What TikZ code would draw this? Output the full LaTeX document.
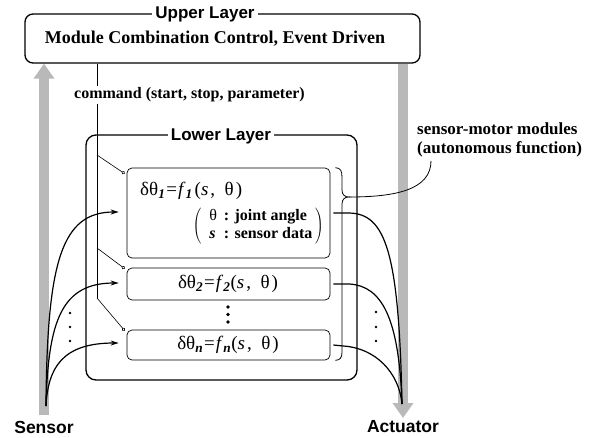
\documentclass[tikz,border=0pt]{standalone}
\usepackage{fontspec}
\setmainfont{Liberation Serif}
\newfontfamily\headfont{Liberation Sans}
\usetikzlibrary{arrows.meta,calc}

\tikzset{
  layerbox/.style={draw, line width=1.3pt, rounded corners=8pt, inner sep=0pt},
  modbox/.style={draw, line width=0.7pt, rounded corners=5pt, inner sep=0pt},
  headlabel/.style={fill=white, inner sep=3pt, font=\headfont\bfseries\fontsize{17}{20}\selectfont},
  boldlabel/.style={inner sep=2pt, font=\bfseries\fontsize{16}{18}\selectfont},
  eqlabel/.style={inner sep=0pt, font=\fontsize{19}{21}\selectfont},
  bigarrow/.style={draw=gray!55, line width=10pt, -{Triangle[width=20pt,length=15pt]}},
  cmdline/.style={line width=0.7pt},
  cmdbranch/.style={line width=0.6pt, -{Circle[open,length=3.5pt]}},
  flow/.style={line width=1.2pt},
  flowin/.style={line width=1.2pt, -{Stealth[length=8pt,width=5pt]}},
  dotmark/.style={fill=black}
}

\begin{document}
\begin{tikzpicture}[x=1pt,y=-1pt]
\useasboundingbox (0,0) rectangle (607,437);

% upper layer
\node[layerbox, minimum width=395pt, minimum height=49pt] (upper) at (222.5,38.5) {};
\node[headlabel] (uppertitle) at (205,14) {Upper Layer};
\node[inner sep=0pt, font=\bfseries\fontsize{18}{20}\selectfont] (uppertext) at (215,39)
  {Module Combination Control, Event Driven};

% lower layer
\node[layerbox, rounded corners=10pt, minimum width=271pt, minimum height=245pt] (lower) at (221.5,257.5) {};
\node[headlabel] (lowertitle) at (221,136) {Lower Layer};

% sensor-motor modules
\node[modbox, minimum width=203pt, minimum height=90pt] (m1) at (228.5,213) {};
\node[modbox, minimum width=203pt, minimum height=32pt] (m2) at (228.5,284) {};
\node[modbox, minimum width=203pt, minimum height=30pt] (mn) at (228.5,345) {};

\node[eqlabel, anchor=west] (eq1) at (140,191)
  {δθ\textsubscript{\textbf{\textit{1}}}\kern1pt=\kern1pt\textit{f}\textsubscript{\textbf{\textit{1}}}\kern2pt(\textit{s}\kern2pt,\enspace θ\kern2pt)};
\node[inner sep=0pt, anchor=east, font=\fontsize{16}{16}\selectfont] (note1) at (324,226)
  {\renewcommand{\arraystretch}{1.15}$\left(\vcenter{\hbox{\begin{tabular}{@{\enspace}l@{\hspace{7pt}}l@{\,}}
     θ & \bfseries : joint angle\\
     \bfseries\itshape s & \bfseries : sensor data
   \end{tabular}}}\right)$};
\node[eqlabel] (eq2) at (228,284)
  {δθ\textsubscript{\textbf{\textit{2}}}\kern1pt=\kern1pt\textit{f}\textsubscript{\textbf{\textit{2}}}(\textit{s}\kern2pt,\enspace θ\kern2pt)};
\node[eqlabel] (eqn) at (228,345)
  {δθ\textsubscript{\textbf{\textit{n}}}\kern1pt=\kern1pt\textit{f}\textsubscript{\textbf{\textit{n}}}(\textit{s}\kern2pt,\enspace θ\kern2pt)};

% dots between module 2 and module n
\foreach \yy in {307,314.5,322} \fill[dotmark] (228,\yy) circle (1.8pt);

% command line from the upper layer to every module
\coordinate (cmdfoot) at (97,298);
\coordinate (cmd1) at (97,155);
\coordinate (cmd2) at (97,248);
\draw[cmdline] (upper.south -| cmdfoot) -- (cmdfoot);
\draw[cmdbranch] (cmd1) -- ($(m1.north west)+(-2,6)$);
\draw[cmdbranch] (cmd2) -- ($(m2.north west)+(-2,1)$);
\draw[cmdbranch] (cmdfoot) -- ($(mn.north west)+(-2,1)$);
\node[boldlabel, fill=white, anchor=west] (cmdtext) at (72,95) {command (start, stop, parameter)};

% sensor and actuator channels
\node[inner sep=0pt, font=\headfont\bfseries\fontsize{17.5}{20}\selectfont] (sensor) at (44,427) {Sensor};
\node[inner sep=0pt, font=\headfont\bfseries\fontsize{17.5}{20}\selectfont] (actuator) at (403,427) {Actuator};
\draw[bigarrow] (sensor.north |- 0,415) -- (sensor.north |- upper.south);
\draw[bigarrow] (upper.south -| actuator.north) -- (actuator.north |- 0,418);

\coordinate (sbase) at (46,406);
\coordinate (abase) at (402,404);

% sensor inputs into the modules
\draw[flowin] (sbase) .. controls (47,260) and (62,212) .. ($(m1.west)+(-8,-1)$);
\draw[flowin] (sbase) .. controls (48,320) and (62,283) .. ($(m2.west)+(-8,-1)$);
\draw[flowin] (sbase) .. controls (48,368) and (62,343) .. ($(mn.west)+(-8,-2)$);
\foreach \yy in {313,327,341} \fill[dotmark] (70,\yy) circle (1.3pt);

% module outputs to the actuators
\draw[flow] ($(m1.east)+(3,0)$) -- ++(16,0) .. controls (385,214) and (399,250) .. (abase);
\draw[flow] ($(m2.east)+(3,0)$) -- ++(16,0) .. controls (382,286) and (399,318) .. (abase);
\draw[flow] ($(mn.east)+(3,0)$) -- ++(10,1) .. controls (375,348) and (399,372) .. (abase);
\foreach \yy in {312,327,341} \fill[dotmark] (376,\yy) circle (1.3pt);

% brace grouping the modules
\coordinate (bracetip) at (349,197);
\draw[line width=0.8pt] ($(m1.north east)+(5,0)$) .. controls (341,168) and (342,171) .. (342,178)
  -- (342,190) .. controls (342,195) and (345,197) .. (bracetip)
  .. controls (345,197) and (342,199) .. (342,204)
  -- (342,352) .. controls (342,358) and (340,360) .. ($(mn.south east)+(5,0)$);

% label of the module group
\node[boldlabel, font=\bfseries\fontsize{17}{19}\selectfont, align=left, anchor=north west] (smm) at (415,120)
  {sensor-motor modules\\(autonomous function)};
\coordinate (smmfoot) at ($(smm.south west)+(16,2)$);
\draw[line width=0.8pt] (bracetip) .. controls (395,197) and (smmfoot |- 0,190) .. (smmfoot);
\end{tikzpicture}
\end{document}
